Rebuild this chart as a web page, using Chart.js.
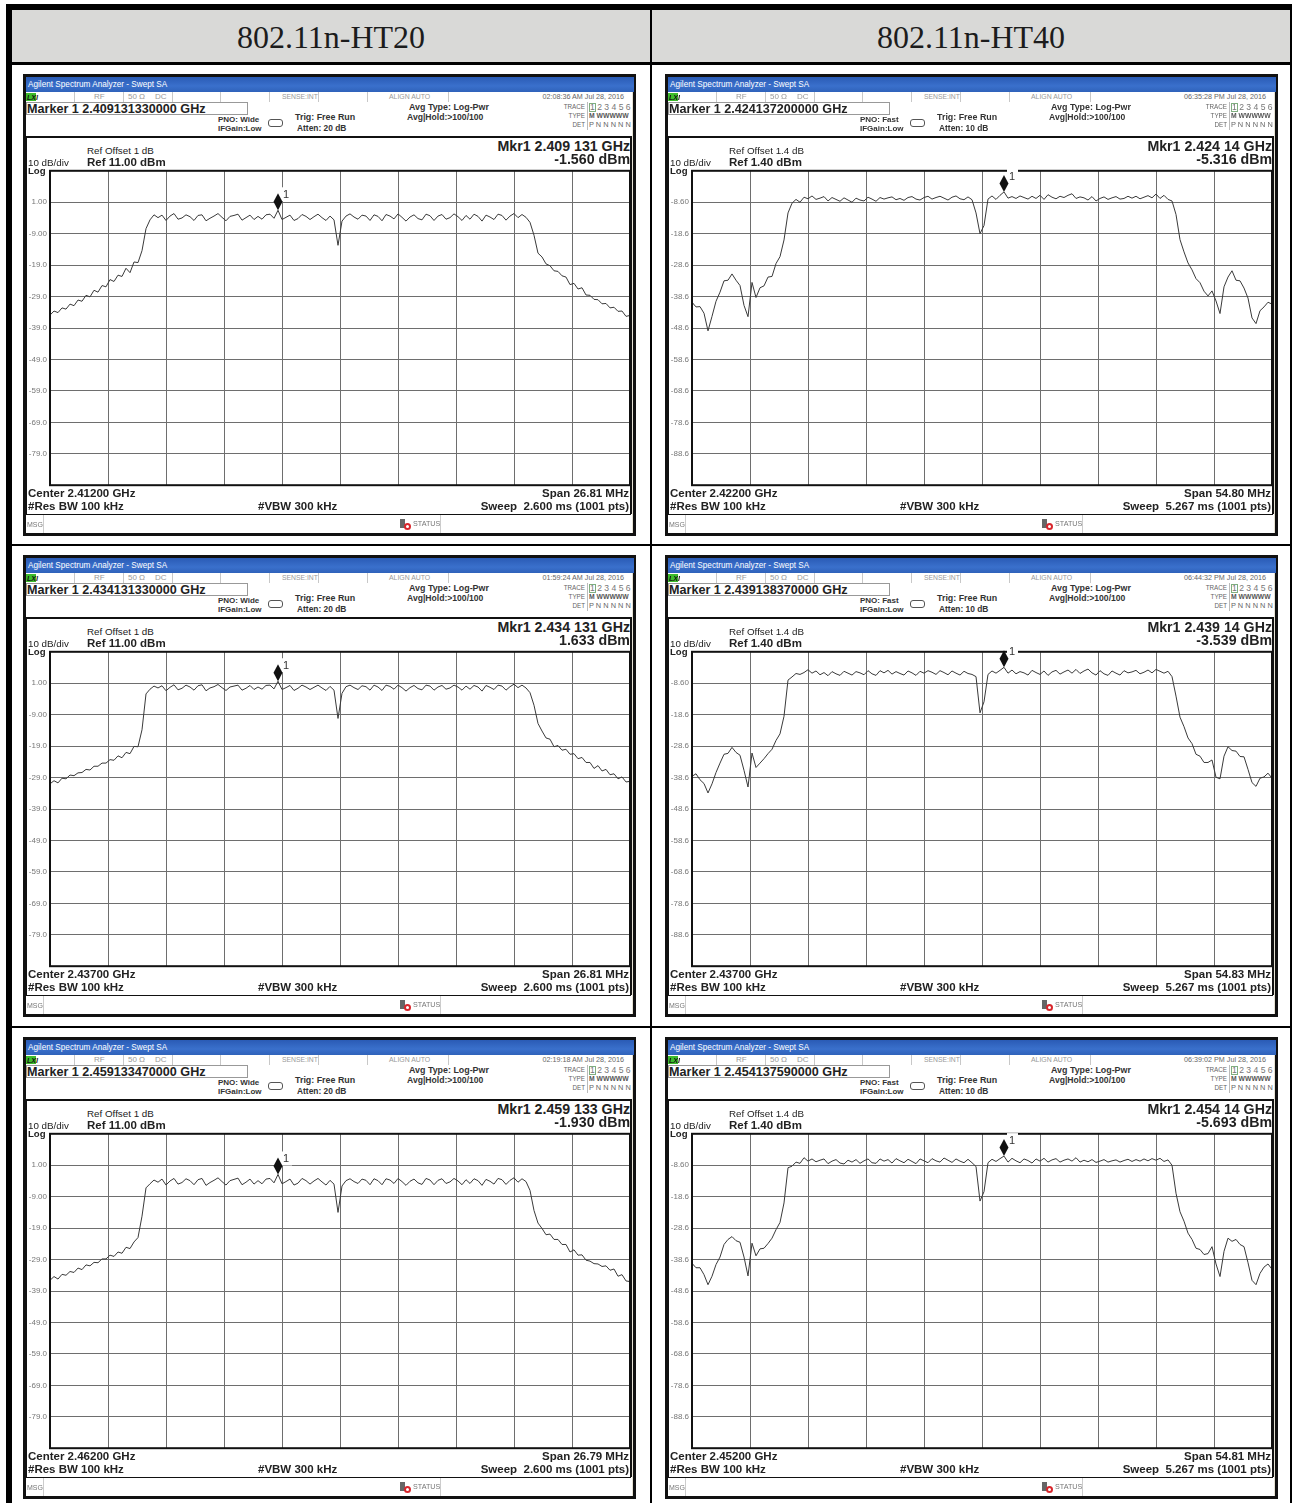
<!DOCTYPE html>
<html>
<head>
<meta charset="utf-8">
<title>802.11n spectrum plots</title>
<script src="https://cdn.jsdelivr.net/npm/chart.js@4"></script>
<style>
  html, body { margin: 0; padding: 0; background: #fff; }
  #page { position: relative; width: 1292px; height: 1503px; overflow: hidden; background: #fff; font-family: "Liberation Sans", Arial, sans-serif; }
  .box { position: absolute; }
  .txt { position: absolute; white-space: pre; line-height: 1; color: #111; }
  .head { position: absolute; top: 10px; height: 52px; line-height: 55px; text-align: center; background: #d9d9d7; font-family: "Liberation Serif", serif; font-size: 32px; color: #1c1c1c; }
  canvas { position: absolute; }
</style>
</head>
<body>
<div id="page"></div>
<script>
// trace values in dBm, one every 4 px across the 10 divisions (146 readings)
const ht20Row1 = [
  -34.9,-33.6,-34.1,-32.6,-33.0,-31.4,-31.9,-30.1,-30.5,-28.6,
  -29.1,-27.0,-27.6,-25.5,-25.9,-23.6,-24.2,-22.2,-22.6,-20.0,
  -21.4,-18.0,-18.2,-14.4,-7.4,-4.6,-3.0,-3.9,-3.1,-4.8,
  -3.4,-2.6,-4.4,-4.0,-3.0,-3.6,-4.8,-3.2,-3.0,-4.9,
  -4.1,-3.4,-2.6,-3.8,-4.9,-3.5,-3.2,-2.8,-4.7,-3.9,
  -3.1,-4.5,-3.5,-4.4,-3.0,-2.8,-4.1,-1.56,-4.5,-3.8,
  -3.1,-4.8,-4.2,-2.9,-3.5,-4.5,-3.6,-2.8,-3.9,-4.8,
  -3.4,-4.6,-12.7,-5.0,-3.4,-2.7,-3.7,-4.4,-3.1,-3.4,
  -4.8,-3.0,-3.5,-4.9,-2.9,-3.4,-4.3,-2.7,-3.8,-5.0,
  -3.7,-3.0,-4.2,-4.6,-2.8,-3.3,-4.8,-3.4,-2.9,-4.4,
  -3.9,-2.7,-3.6,-4.8,-3.2,-4.4,-2.8,-3.5,-5.0,-3.1,
  -3.7,-4.5,-2.8,-3.2,-4.7,-3.4,-2.6,-3.9,-2.9,-3.8,
  -5.4,-9.5,-15.2,-16.4,-18.6,-19.2,-20.8,-21.0,-22.4,-22.8,
  -25.2,-24.8,-26.6,-26.2,-28.5,-28.6,-29.9,-30.0,-31.3,-31.2,
  -32.6,-32.4,-33.7,-33.6,-35.3,-35.0
];
const ht20Row2 = [
  -31.0,-30.0,-30.7,-29.2,-29.4,-28.2,-28.4,-27.5,-27.4,-26.4,
  -26.6,-25.4,-25.4,-24.4,-24.4,-23.3,-23.5,-22.1,-22.7,-21.0,
  -21.4,-19.1,-19.2,-13.8,-2.4,-0.9,0.1,-0.5,0.2,-1.4,
  -0.3,0.5,-1.1,-0.6,0.4,-0.2,-1.2,0.2,0.5,-1.4,
  -0.5,-0.1,0.6,-0.4,-1.3,-0.2,0.1,0.4,-1.2,-0.6,
  0.3,-1.0,-0.2,-0.9,0.3,0.4,-0.8,1.63,-1.0,-0.4,
  0.3,-1.3,-0.6,0.4,-0.2,-1.0,-0.3,0.4,-0.5,-1.3,
  0.0,-1.2,-10.2,-2.2,-0.1,0.4,-0.4,-1.0,0.2,-0.1,
  -1.2,0.4,-0.2,-1.3,0.4,0.0,-0.9,0.4,-0.4,-1.5,
  -0.4,0.3,-0.7,-1.1,0.4,0.1,-1.2,-0.2,0.3,-0.9,
  -0.5,0.4,-0.2,-1.2,0.1,-0.9,0.3,-0.2,-1.5,0.3,
  -0.3,-1.0,0.4,0.1,-1.2,-0.1,0.7,-0.4,0.4,-0.5,
  -2.0,-6.0,-11.8,-14.2,-16.4,-16.8,-19.2,-18.8,-20.3,-20.0,
  -21.6,-21.4,-23.0,-22.6,-24.2,-24.2,-26.1,-25.2,-26.9,-26.4,
  -28.1,-27.8,-29.4,-28.8,-30.4,-30.2
];
const ht20Row3 = [
  -35.6,-34.4,-35.2,-33.7,-34.0,-32.8,-33.1,-31.7,-32.2,-30.7,
  -31.0,-29.9,-30.0,-28.8,-28.8,-27.6,-28.0,-26.6,-27.0,-25.1,
  -25.5,-23.4,-22.0,-15.2,-6.2,-4.9,-3.7,-4.4,-3.4,-5.3,
  -4.0,-3.2,-5.0,-4.5,-3.3,-3.9,-5.2,-3.6,-3.2,-5.4,
  -4.5,-3.8,-3.0,-4.2,-5.3,-3.9,-3.5,-3.1,-5.2,-4.4,
  -3.4,-5.0,-3.9,-4.9,-3.4,-3.2,-4.6,-1.93,-4.9,-4.2,
  -3.4,-5.3,-4.7,-3.2,-3.9,-5.0,-4.0,-3.2,-4.3,-5.3,
  -3.8,-5.0,-14.0,-5.6,-3.9,-3.3,-4.2,-4.8,-3.4,-3.8,
  -5.2,-3.3,-3.9,-5.2,-3.3,-3.7,-4.8,-3.2,-4.2,-5.4,
  -4.1,-3.4,-4.6,-5.1,-3.2,-3.7,-5.2,-3.8,-3.3,-4.8,
  -4.3,-3.2,-4.0,-5.2,-3.6,-4.8,-3.3,-3.9,-5.4,-3.5,
  -4.1,-5.0,-3.2,-3.6,-5.1,-3.8,-3.0,-4.4,-3.3,-4.2,
  -7.0,-13.4,-17.4,-19.1,-21.1,-20.9,-22.6,-22.6,-24.2,-24.2,
  -26.6,-25.9,-27.6,-27.5,-29.2,-29.5,-30.3,-30.4,-31.2,-31.0,
  -32.4,-32.0,-34.3,-33.8,-35.8,-36.0
];
const ht40Row1 = [
  -40.4,-41.9,-41.8,-43.9,-49.5,-44.9,-40.1,-37.2,-33.6,-33.4,
  -31.4,-33.4,-35.1,-41.4,-45.0,-34.1,-38.9,-35.8,-35.2,-32.4,
  -32.2,-28.1,-25.9,-20.6,-12.0,-8.9,-7.7,-8.6,-7.0,-7.5,
  -6.6,-7.7,-7.3,-6.8,-8.2,-7.1,-7.7,-8.3,-7.2,-7.9,
  -8.6,-7.3,-7.9,-8.2,-7.0,-7.6,-8.3,-7.1,-7.6,-7.2,
  -6.9,-7.8,-7.4,-8.0,-7.1,-6.8,-7.6,-7.9,-7.1,-6.7,
  -7.6,-7.1,-6.7,-7.3,-7.9,-7.0,-6.6,-7.5,-7.8,-6.9,
  -7.8,-12.0,-18.6,-16.0,-7.6,-6.6,-7.7,-6.4,-5.316,-7.3,
  -6.8,-7.4,-6.6,-7.1,-7.6,-6.7,-7.4,-6.4,-7.7,-6.2,
  -7.0,-7.5,-6.7,-7.1,-6.4,-5.9,-7.4,-6.9,-7.2,-7.9,
  -6.8,-8.2,-7.4,-6.9,-7.7,-7.2,-6.8,-7.6,-7.4,-6.7,
  -7.3,-6.7,-7.5,-7.0,-6.5,-7.2,-6.0,-7.4,-6.4,-7.7,
  -8.2,-12.5,-20.5,-24.4,-27.9,-30.1,-32.9,-34.2,-36.9,-38.4,
  -36.8,-40.0,-44.0,-35.5,-32.4,-30.4,-33.4,-33.6,-35.9,-39.1,
  -45.4,-47.2,-43.1,-41.9,-40.4,-41.0
];
const ht40Row2 = [
  -38.2,-37.4,-39.3,-40.5,-43.5,-40.6,-37.0,-34.0,-31.2,-30.9,
  -29.0,-30.6,-31.5,-36.3,-41.6,-30.8,-35.4,-34.0,-32.6,-31.0,
  -29.6,-26.8,-24.7,-19.1,-7.6,-6.6,-5.5,-5.8,-5.2,-4.3,
  -5.4,-4.7,-5.9,-5.2,-6.2,-4.9,-5.6,-6.1,-4.8,-5.4,
  -6.0,-4.9,-5.3,-5.9,-4.6,-5.6,-6.1,-4.6,-5.3,-4.5,
  -5.7,-4.9,-5.5,-6.0,-4.7,-5.3,-6.1,-4.8,-5.4,-4.6,
  -5.1,-5.8,-4.6,-5.2,-5.9,-4.7,-5.4,-6.0,-4.8,-5.5,
  -5.8,-6.5,-18.0,-14.5,-5.8,-4.7,-5.4,-4.5,-3.539,-5.4,
  -4.4,-5.6,-4.9,-5.3,-6.0,-4.5,-5.2,-5.8,-4.7,-6.1,
  -5.0,-4.5,-5.7,-5.0,-4.4,-5.4,-4.2,-5.5,-4.7,-4.1,
  -5.3,-6.0,-4.6,-5.6,-6.1,-4.7,-5.4,-6.0,-4.6,-5.3,
  -5.0,-4.5,-5.6,-5.1,-4.4,-5.3,-4.2,-4.8,-5.4,-4.8,
  -6.5,-12.7,-19.4,-22.4,-26.0,-27.8,-31.2,-31.8,-33.8,-33.8,
  -33.0,-38.5,-39.0,-31.8,-28.8,-30.0,-30.2,-31.9,-32.0,-36.0,
  -40.2,-41.4,-38.8,-38.4,-37.2,-38.8
];
const ht40Row3 = [
  -39.8,-41.2,-41.2,-43.4,-46.6,-43.9,-40.2,-37.8,-33.8,-32.2,
  -31.3,-32.6,-33.1,-37.8,-43.8,-33.4,-37.4,-35.2,-35.0,-33.5,
  -31.8,-29.1,-26.8,-20.6,-9.4,-8.9,-7.6,-8.0,-6.2,-7.3,
  -6.6,-7.5,-7.0,-6.6,-8.1,-7.3,-6.8,-7.9,-8.2,-7.0,
  -7.6,-6.8,-8.0,-7.2,-6.6,-7.8,-8.0,-6.6,-7.3,-6.8,
  -7.9,-6.5,-7.2,-7.8,-6.7,-7.4,-8.1,-6.6,-7.2,-7.8,
  -6.5,-7.2,-7.6,-6.3,-7.0,-7.7,-6.6,-7.3,-7.8,-6.7,
  -7.8,-9.0,-20.0,-17.0,-7.8,-6.7,-7.4,-6.5,-5.693,-7.6,
  -6.4,-7.2,-7.8,-6.6,-7.1,-7.9,-6.6,-7.3,-6.4,-7.6,
  -6.9,-6.5,-7.6,-7.0,-6.6,-7.3,-6.2,-7.6,-7.0,-7.5,
  -6.8,-7.7,-7.3,-6.8,-7.6,-7.2,-6.9,-7.6,-7.1,-6.7,
  -7.4,-6.8,-7.3,-6.6,-7.2,-6.5,-7.0,-6.4,-7.4,-6.9,
  -8.6,-17.5,-23.4,-26.4,-30.2,-32.2,-35.0,-35.4,-37.0,-36.7,
  -34.5,-40.0,-44.0,-36.0,-31.8,-32.8,-32.2,-33.8,-34.5,-39.6,
  -45.2,-46.6,-43.0,-41.0,-40.0,-41.7
];

const columnTitles = ["802.11n-HT20", "802.11n-HT40"];
const ht20Ticks = ["1.00", "-9.00", "-19.0", "-29.0", "-39.0", "-49.0", "-59.0", "-69.0", "-79.0"];
const ht40Ticks = ["-8.60", "-18.6", "-28.6", "-38.6", "-48.6", "-58.6", "-68.6", "-78.6", "-88.6"];
const refLevels = [11, 1.4];
const refLabels = ["Ref 11.00 dBm", "Ref 1.40 dBm"];
const refOffsets = ["Ref Offset 1 dB", "Ref Offset 1.4 dB"];
const pnoLabels = ["PNO: Wide", "PNO: Fast"];
const attenLabels = ["Atten: 20 dB", "Atten: 10 dB"];
const sweepLabels = ["Sweep  2.600 ms (1001 pts)", "Sweep  5.267 ms (1001 pts)"];
const markerPoints = [57, 78]; // reading index of the marker

const traces = [[ht20Row1, ht20Row2, ht20Row3], [ht40Row1, ht40Row2, ht40Row3]];
const markerFreqs = [["2.409131330000", "2.434131330000", "2.459133470000"], ["2.424137200000", "2.439138370000", "2.454137590000"]];
const mkrFreqs = [["2.409 131", "2.434 131", "2.459 133"], ["2.424 14", "2.439 14", "2.454 14"]];
const mkrValues = [["-1.560", "1.633", "-1.930"], ["-5.316", "-3.539", "-5.693"]];
const timestamps = [["02:08:36 AM", "01:59:24 AM", "02:19:18 AM"], ["06:35:28 PM", "06:44:32 PM", "06:39:02 PM"]];
const centers = [["2.41200", "2.43700", "2.46200"], ["2.42200", "2.43700", "2.45200"]];
const spans = [["26.81", "26.81", "26.79"], ["54.80", "54.83", "54.81"]];

const panelX = [23, 665];
const panelY = [74, 555, 1037];

const page = document.getElementById("page");

function addBox(parent, left, top, width, height, css) {
  const el = document.createElement("div");
  el.className = "box";
  el.style.cssText = `left:${left}px;top:${top}px;width:${width}px;height:${height}px;${css || ""}`;
  parent.appendChild(el);
  return el;
}

// y is the vertical centre of the text; align "r" makes x the right edge
function addText(parent, str, x, y, font, color, align) {
  const el = document.createElement("div");
  el.className = "txt";
  el.textContent = str;
  el.style.left = x + "px";
  el.style.top = y + "px";
  el.style.font = font + ' "Liberation Sans", Arial, sans-serif';
  el.style.lineHeight = "1";
  if (color) el.style.color = color;
  el.style.transform = align === "r" ? "translate(-100%,-50%)" : "translateY(-50%)";
  parent.appendChild(el);
  return el;
}

// outer table lines
addBox(page, 6, 4, 1286, 6, "background:#000");
addBox(page, 6, 4, 6, 1499, "background:#000");
addBox(page, 1290, 4, 2, 1499, "background:#000");
addBox(page, 12, 62, 1280, 3, "background:#000");
addBox(page, 650, 10, 2, 1493, "background:#000");
addBox(page, 12, 544, 1280, 2, "background:#000");
addBox(page, 12, 1026, 1280, 2, "background:#000");

columnTitles.forEach((title, c) => {
  const head = document.createElement("div");
  head.className = "head";
  head.textContent = title;
  head.style.left = (c === 0 ? 12 : 652) + "px";
  head.style.width = "638px";
  page.appendChild(head);
});

const frameLines = {
  id: "frameLines",
  afterDraw(chart, args, opts) {
    const { ctx, chartArea: a, scales } = chart;
    ctx.save();
    ctx.strokeStyle = "#111";
    ctx.lineWidth = 2;
    ctx.strokeRect(a.left, a.top, a.right - a.left, a.bottom - a.top);
    // marker diamond sits with its bottom tip on the trace
    const px = scales.x.getPixelForValue(opts.index);
    const py = scales.y.getPixelForValue(opts.value);
    ctx.fillStyle = "#fff";
    ctx.fillRect(px + 3, py - 23, 11, 14);
    ctx.fillStyle = "#111";
    ctx.beginPath();
    ctx.moveTo(px, py);
    ctx.lineTo(px + 4.5, py - 8.5);
    ctx.lineTo(px, py - 17);
    ctx.lineTo(px - 4.5, py - 8.5);
    ctx.closePath();
    ctx.fill();
    ctx.font = '11px "Liberation Sans", Arial, sans-serif';
    ctx.fillStyle = "#333";
    ctx.textBaseline = "middle";
    ctx.fillText("1", px + 5, py - 15);
    ctx.restore();
  }
};

function drawPanel(c, r) {
  const wrap = addBox(page, panelX[c], panelY[r], 613, 462, "background:#111");
  addBox(wrap, 3, 3, 607, 456, "background:#fff");

  // title bar and status row
  addBox(wrap, 3, 3, 608, 15, "background:linear-gradient(#2a5bb5,#3a70cc 60%,#2f62ba)");
  addText(wrap, "Agilent Spectrum Analyzer - Swept SA", 5, 10.5, "8.2px", "#fff");
  addBox(wrap, 3, 18, 607, 10, "background:#fff");
  addBox(wrap, 3, 18.5, 10, 8, "background:#3dbb2c");
  addText(wrap, "LXI", 4, 23, "italic bold 7px", "#111");
  [51, 100, 149, 197, 246, 295, 344, 425].forEach(x => addBox(wrap, x, 18, 1, 10, "background:#c8c8c8"));
  addText(wrap, "RF", 71, 23, "8px", "#999");
  addText(wrap, "50 Ω", 105, 23, "8px", "#999");
  addText(wrap, "DC", 132, 23, "8px", "#999");
  addText(wrap, "SENSE:INT", 259, 23, "6.8px", "#999");
  addText(wrap, "ALIGN AUTO", 366, 23, "6.9px", "#999");
  addText(wrap, timestamps[c][r] + " Jul 28, 2016", 601, 23, "7.2px", "#666", "r");

  // marker entry line and settings
  addBox(wrap, 3, 28, 222, 13, "box-sizing:border-box;border:1px solid #999;background:#fff");
  addText(wrap, `Marker 1 ${markerFreqs[c][r]} GHz`, 4, 35, "bold 12.6px", "#222");
  addText(wrap, pnoLabels[c], 195, 46, "bold 8px", "#333");
  addText(wrap, "IFGain:Low", 195, 55, "bold 8px", "#333");
  addBox(wrap, 245, 45, 13, 6, "border:1px solid #555;border-radius:3px;background:#fff");
  addText(wrap, "Trig: Free Run", 272, 43, "bold 8.9px", "#333");
  addText(wrap, attenLabels[c], 274, 54, "bold 8.4px", "#333");
  addText(wrap, "Avg Type: Log-Pwr", 386, 33, "bold 8.9px", "#333");
  addText(wrap, "Avg|Hold:>100/100", 384, 43, "bold 8.6px", "#333");

  addText(wrap, "TRACE", 562, 33, "6.3px", "#666", "r");
  addText(wrap, "TYPE", 562, 42, "6.3px", "#666", "r");
  addText(wrap, "DET", 562, 51, "6.3px", "#666", "r");
  addBox(wrap, 564, 28, 1, 28, "background:#bbb");
  addBox(wrap, 566, 29, 7, 9, "box-sizing:border-box;border:1px solid #7fae7f");
  addText(wrap, "1 2 3 4 5 6", 567, 33, "8.6px", "#777");
  addText(wrap, "M WWWWW", 566, 42, "bold 6.8px", "#555");
  addText(wrap, "P N N N N N", 566, 51, "7.4px", "#666");

  // readout area edges
  addBox(wrap, 3, 62, 605, 1.5, "background:#111");
  addBox(wrap, 2, 62, 1.5, 378, "background:#111");
  addBox(wrap, 607, 62, 1.5, 378, "background:#111");
  addBox(wrap, 608.5, 18, 1.5, 441, "background:#e6e2d4");

  const canvas = document.createElement("canvas");
  canvas.width = 606;
  canvas.height = 330;
  canvas.style.cssText = "left:3px;top:89px;width:606px;height:330px";
  wrap.appendChild(canvas);
  buildChart(canvas, c, r);

  addText(wrap, refOffsets[c], 64, 77, "9.8px", "#222");
  addText(wrap, refLabels[c], 64, 88.5, "bold 11.5px", "#222");
  addText(wrap, "10 dB/div", 5, 88.5, "9.8px", "#222");
  addText(wrap, "Log", 5, 97, "bold 9.6px", "#222");
  addText(wrap, `Mkr1 ${mkrFreqs[c][r]} GHz`, 607, 71.5, "bold 14.2px", "#222", "r");
  addText(wrap, `${mkrValues[c][r]} dBm`, 607, 85, "bold 14.2px", "#222", "r");

  addText(wrap, `Center ${centers[c][r]} GHz`, 5, 420, "bold 11.5px", "#222");
  addText(wrap, "#Res BW 100 kHz", 5, 433, "bold 11.5px", "#222");
  addText(wrap, "#VBW 300 kHz", 235, 433, "bold 11.5px", "#222");
  addText(wrap, `Span ${spans[c][r]} MHz`, 606, 420, "bold 11.5px", "#222", "r");
  addText(wrap, sweepLabels[c], 606, 433, "bold 11.5px", "#222", "r");

  // message row
  addBox(wrap, 3, 439.5, 605, 1.5, "background:#111");
  addText(wrap, "MSG", 4, 450, "7px", "#777");
  addBox(wrap, 20, 441, 1, 18, "background:#ccc");
  addBox(wrap, 377, 445, 5, 9, "background:#666");
  addBox(wrap, 381, 449, 7, 7, "box-sizing:border-box;background:#fff;border:2px solid #d8262c;border-radius:50%");
  addText(wrap, "STATUS", 390, 450, "7.2px", "#777");
  addBox(wrap, 417, 441, 1, 18, "background:#ccc");
}

function buildChart(canvas, c, r) {
  const ref = refLevels[c];
  const tickLabels = c === 0 ? ht20Ticks : ht40Ticks;
  const values = traces[c][r];
  const points = values.map((v, i) => ({ x: i, y: v }));
  new Chart(canvas, {
    type: "line",
    data: { datasets: [{ data: points, borderColor: "#3a3a3a", borderWidth: 1, pointRadius: 0, tension: 0, fill: false }] },
    plugins: [frameLines],
    options: {
      responsive: false,
      animation: false,
      layout: { padding: { top: 6, bottom: 5, right: 2, left: 0 } },
      plugins: {
        legend: { display: false },
        tooltip: { enabled: false },
        frameLines: { index: markerPoints[c], value: values[markerPoints[c]] }
      },
      scales: {
        x: {
          type: "linear",
          min: 0,
          max: 145,
          border: { display: false },
          grid: { color: "#6e6e6e", lineWidth: 1, drawTicks: false },
          ticks: { display: false },
          afterBuildTicks: axis => {
            axis.ticks = tickLabels.concat(["", ""]).map((_, i) => ({ value: i * 14.5 }));
          },
          afterFit: axis => { axis.height = 0; }
        },
        y: {
          type: "linear",
          min: ref - 100,
          max: ref,
          border: { display: false },
          grid: { color: "#6e6e6e", lineWidth: 1, drawTicks: false },
          ticks: {
            color: "#777",
            font: { size: 8, family: '"Liberation Sans", Arial, sans-serif' },
            padding: 3,
            autoSkip: false,
            callback: (_, i) => (i === 0 || i === 10 ? "" : tickLabels[i - 1])
          },
          afterBuildTicks: axis => {
            axis.ticks = tickLabels.concat(["", ""]).map((_, i) => ({ value: ref - i * 10 }));
          },
          afterFit: axis => { axis.width = 24; }
        }
      }
    }
  });
}

for (let c = 0; c < 2; c++) {
  for (let r = 0; r < 3; r++) {
    drawPanel(c, r);
  }
}
</script>
</body>
</html>
